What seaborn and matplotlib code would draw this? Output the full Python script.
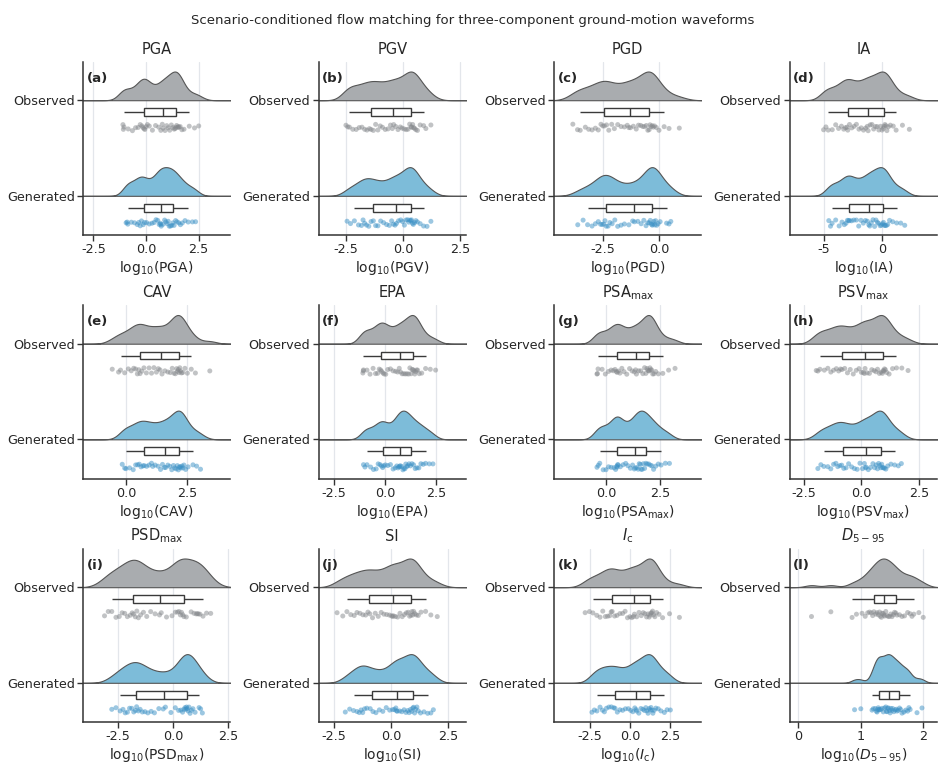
import numpy as np
import pandas as pd
import matplotlib
matplotlib.use("Agg")
import matplotlib.pyplot as plt
from matplotlib.ticker import MaxNLocator
import seaborn as sns

# log10 samples per intensity measure (observed vs generated)
pga_obs = [-1.1, -1.08, -1.05, -0.85, -0.65, -0.5, -0.38, -0.28, -0.2, -0.15,
           -0.1, -0.06, 0.0, 0.06, 0.15, 0.3, 0.45, 0.6, 0.7, 0.77,
           0.81, 0.9, 0.98, 1.05, 1.12, 1.2, 1.27, 1.33, 1.38, 1.41,
           1.45, 1.5, 1.53, 1.57, 1.62, 1.7, 1.8, 2.05, 2.3, 2.5]
pga_gen = [-0.95, -0.9, -0.87, -0.7, -0.55, -0.42, -0.35, -0.28, -0.22, -0.14,
           -0.08, 0.02, 0.15, 0.28, 0.38, 0.47, 0.55, 0.62, 0.67, 0.7,
           0.72, 0.8, 0.88, 0.94, 1.0, 1.05, 1.1, 1.16, 1.22, 1.27,
           1.33, 1.4, 1.47, 1.55, 1.63, 1.72, 1.85, 2.0, 2.2, 2.35]
pgv_obs = [-2.5, -2.42, -2.35, -2.2, -2.05, -1.92, -1.8, -1.68, -1.58, -1.47,
           -1.4, -1.3, -1.2, -1.1, -1.0, -0.9, -0.78, -0.66, -0.55, -0.47,
           -0.41, -0.32, -0.22, -0.12, -0.04, 0.05, 0.14, 0.22, 0.29, 0.35,
           0.38, 0.42, 0.46, 0.5, 0.56, 0.63, 0.75, 0.9, 1.0, 1.22]
pgv_gen = [-2.45, -2.3, -2.13, -1.95, -1.82, -1.75, -1.68, -1.6, -1.5, -1.4,
           -1.3, -1.2, -1.1, -0.98, -0.85, -0.72, -0.6, -0.5, -0.42, -0.35,
           -0.29, -0.2, -0.1, -0.02, 0.06, 0.13, 0.2, 0.25, 0.3, 0.34,
           0.37, 0.41, 0.45, 0.5, 0.56, 0.63, 0.75, 0.9, 1.05, 1.22]
pgd_obs = [-3.86, -3.65, -3.53, -3.3, -3.15, -3.0, -2.85, -2.72, -2.6, -2.52,
           -2.45, -2.35, -2.25, -2.12, -2.0, -1.85, -1.7, -1.55, -1.42, -1.35,
           -1.28, -1.15, -1.02, -0.92, -0.82, -0.73, -0.65, -0.57, -0.5, -0.44,
           -0.4, -0.35, -0.3, -0.26, -0.2, -0.12, 0.0, 0.23, 0.45, 0.91]
pgd_gen = [-3.64, -3.4, -3.2, -3.0, -2.85, -2.72, -2.62, -2.55, -2.48, -2.42,
           -2.36, -2.28, -2.2, -2.1, -1.98, -1.85, -1.7, -1.55, -1.35, -1.18,
           -1.1, -0.95, -0.8, -0.68, -0.58, -0.5, -0.44, -0.39, -0.34, -0.3,
           -0.27, -0.23, -0.19, -0.15, -0.1, -0.04, 0.05, 0.34, 0.45, 0.53]
ia_obs = [-5.05, -4.85, -4.65, -4.3, -4.0, -3.75, -3.5, -3.3, -3.15, -3.02,
          -2.95, -2.8, -2.6, -2.4, -2.2, -1.98, -1.78, -1.58, -1.4, -1.25,
          -1.18, -1.0, -0.85, -0.7, -0.55, -0.4, -0.25, -0.1, 0.03, 0.14,
          0.2, 0.28, 0.36, 0.45, 0.58, 0.75, 1.0, 1.25, 1.8, 2.4]
ia_gen = [-4.6, -4.45, -4.31, -4.0, -3.7, -3.45, -3.25, -3.1, -2.98, -2.87,
          -2.8, -2.62, -2.42, -2.2, -2.0, -1.8, -1.6, -1.42, -1.25, -1.12,
          -1.04, -0.9, -0.76, -0.62, -0.5, -0.38, -0.26, -0.14, -0.03, 0.08,
          0.15, 0.22, 0.3, 0.4, 0.52, 0.68, 0.95, 1.3, 1.65, 2.0]
cav_obs = [-0.56, -0.3, -0.22, -0.05, 0.1, 0.22, 0.32, 0.4, 0.47, 0.53,
           0.58, 0.65, 0.74, 0.84, 0.95, 1.05, 1.15, 1.25, 1.33, 1.4,
           1.48, 1.6, 1.72, 1.82, 1.9, 1.97, 2.03, 2.08, 2.12, 2.15,
           2.18, 2.21, 2.24, 2.28, 2.33, 2.42, 2.52, 2.68, 2.85, 3.44]
cav_gen = [-0.15, -0.05, 0.0, 0.15, 0.3, 0.4, 0.48, 0.55, 0.62, 0.7,
           0.75, 0.85, 0.95, 1.05, 1.1, 1.2, 1.32, 1.42, 1.5, 1.58,
           1.63, 1.72, 1.8, 1.88, 1.95, 2.0, 2.06, 2.11, 2.15, 2.19,
           2.22, 2.26, 2.3, 2.34, 2.38, 2.45, 2.55, 2.75, 2.9, 3.06]
epa_obs = [-1.1, -1.08, -1.07, -0.9, -0.75, -0.6, -0.48, -0.38, -0.3, -0.23,
           -0.18, -0.12, -0.06, 0.02, 0.12, 0.25, 0.38, 0.5, 0.6, 0.68,
           0.74, 0.82, 0.9, 0.98, 1.06, 1.14, 1.2, 1.26, 1.31, 1.36,
           1.4, 1.44, 1.48, 1.53, 1.58, 1.66, 1.78, 1.97, 2.2, 2.46]
epa_gen = [-1.07, -1.0, -0.9, -0.72, -0.58, -0.45, -0.35, -0.26, -0.19, -0.13,
           -0.08, 0.0, 0.12, 0.25, 0.38, 0.48, 0.56, 0.62, 0.67, 0.7,
           0.73, 0.8, 0.86, 0.91, 0.96, 1.0, 1.05, 1.1, 1.16, 1.23,
           1.3, 1.38, 1.46, 1.55, 1.64, 1.74, 1.85, 1.97, 2.15, 2.33]
psa_obs = [-0.44, -0.42, -0.39, -0.2, -0.05, 0.1, 0.22, 0.32, 0.4, 0.46,
           0.5, 0.56, 0.63, 0.72, 0.82, 0.95, 1.08, 1.2, 1.3, 1.36,
           1.4, 1.5, 1.6, 1.7, 1.78, 1.84, 1.89, 1.93, 1.97, 2.0,
           2.03, 2.07, 2.11, 2.16, 2.22, 2.3, 2.42, 2.63, 2.9, 3.2]
psa_gen = [-0.44, -0.38, -0.31, -0.15, -0.02, 0.1, 0.22, 0.35, 0.43, 0.48,
           0.5, 0.52, 0.55, 0.65, 0.78, 0.9, 1.0, 1.12, 1.22, 1.3,
           1.35, 1.42, 1.48, 1.53, 1.58, 1.62, 1.67, 1.72, 1.78, 1.84,
           1.9, 1.97, 2.05, 2.12, 2.2, 2.3, 2.42, 2.55, 2.75, 2.94]
psv_obs = [-1.95, -1.88, -1.79, -1.6, -1.45, -1.32, -1.2, -1.08, -0.98, -0.9,
           -0.84, -0.72, -0.6, -0.48, -0.35, -0.22, -0.1, 0.0, 0.08, 0.13,
           0.16, 0.25, 0.35, 0.45, 0.55, 0.63, 0.7, 0.78, 0.85, 0.91,
           0.94, 0.97, 1.0, 1.04, 1.1, 1.2, 1.35, 1.52, 1.75, 2.02]
psv_gen = [-1.88, -1.75, -1.62, -1.45, -1.32, -1.2, -1.1, -1.02, -0.93, -0.85,
           -0.76, -0.66, -0.55, -0.42, -0.3, -0.18, -0.06, 0.05, 0.13, 0.18,
           0.21, 0.3, 0.4, 0.5, 0.58, 0.64, 0.7, 0.75, 0.8, 0.84,
           0.88, 0.92, 0.96, 1.0, 1.06, 1.14, 1.28, 1.44, 1.6, 1.73]
psd_obs = [-3.12, -2.95, -2.79, -2.6, -2.45, -2.32, -2.2, -2.08, -1.95, -1.86,
           -1.8, -1.72, -1.65, -1.58, -1.48, -1.35, -1.2, -1.02, -0.82, -0.62,
           -0.54, -0.3, -0.05, 0.1, 0.2, 0.27, 0.33, 0.38, 0.44, 0.49,
           0.6, 0.82, 0.95, 1.05, 1.1, 1.15, 1.22, 1.36, 1.52, 1.71]
psd_gen = [-2.79, -2.6, -2.41, -2.28, -2.18, -2.08, -1.98, -1.88, -1.79, -1.71,
           -1.66, -1.58, -1.5, -1.4, -1.28, -1.15, -1.0, -0.85, -0.65, -0.45,
           -0.35, -0.1, 0.1, 0.25, 0.35, 0.43, 0.49, 0.54, 0.58, 0.61,
           0.64, 0.68, 0.72, 0.77, 0.83, 0.9, 1.0, 1.18, 1.25, 1.33]
si_obs = [-2.35, -2.1, -1.92, -1.75, -1.6, -1.48, -1.35, -1.22, -1.1, -1.0,
          -0.92, -0.8, -0.68, -0.55, -0.42, -0.3, -0.18, -0.06, 0.03, 0.08,
          0.11, 0.2, 0.3, 0.4, 0.5, 0.6, 0.68, 0.76, 0.82, 0.88,
          0.92, 0.96, 1.0, 1.05, 1.12, 1.2, 1.32, 1.52, 1.75, 2.03]
si_gen = [-1.99, -1.8, -1.63, -1.48, -1.38, -1.3, -1.23, -1.15, -1.05, -0.9,
          -0.78, -0.65, -0.5, -0.35, -0.2, -0.05, 0.08, 0.16, 0.22, 0.25,
          0.28, 0.38, 0.48, 0.58, 0.66, 0.74, 0.8, 0.86, 0.91, 0.96,
          1.0, 1.04, 1.08, 1.14, 1.2, 1.3, 1.45, 1.61, 1.75, 1.86]
ic_obs = [-2.77, -2.5, -2.29, -2.05, -1.85, -1.68, -1.52, -1.38, -1.25, -1.16,
          -1.1, -0.95, -0.8, -0.62, -0.45, -0.3, -0.15, 0.0, 0.12, 0.22,
          0.28, 0.42, 0.56, 0.7, 0.82, 0.93, 1.03, 1.12, 1.19, 1.25,
          1.3, 1.35, 1.4, 1.46, 1.54, 1.65, 1.8, 2.02, 2.45, 3.06]
ic_gen = [-2.35, -2.2, -2.04, -1.85, -1.7, -1.58, -1.45, -1.3, -1.15, -1.0,
          -0.92, -0.78, -0.62, -0.45, -0.28, -0.1, 0.05, 0.18, 0.3, 0.38,
          0.42, 0.55, 0.68, 0.8, 0.9, 0.98, 1.05, 1.12, 1.19, 1.25,
          1.3, 1.36, 1.42, 1.5, 1.6, 1.75, 1.92, 2.13, 2.3, 2.5]
d595_obs = [0.21, 0.52, 0.86, 0.93, 1.02, 1.07, 1.11, 1.14, 1.17, 1.19,
            1.21, 1.24, 1.26, 1.28, 1.3, 1.31, 1.33, 1.34, 1.36, 1.37,
            1.38, 1.4, 1.42, 1.44, 1.46, 1.48, 1.5, 1.52, 1.54, 1.56,
            1.58, 1.62, 1.66, 1.7, 1.75, 1.79, 1.82, 1.85, 1.93, 2.0]
d595_gen = [0.9, 1.0, 1.18, 1.2, 1.23, 1.25, 1.26, 1.27, 1.28, 1.29,
            1.3, 1.32, 1.34, 1.36, 1.38, 1.4, 1.41, 1.42, 1.43, 1.44,
            1.46, 1.47, 1.48, 1.5, 1.51, 1.53, 1.55, 1.57, 1.58, 1.6,
            1.62, 1.64, 1.66, 1.69, 1.72, 1.75, 1.77, 1.79, 1.9, 1.98]

groups = ["Observed", "Generated"]
names = ["PGA", "PGV", "PGD", "IA", "CAV", "EPA",
         r"PSA$_{\mathrm{max}}$", r"PSV$_{\mathrm{max}}$", r"PSD$_{\mathrm{max}}$",
         "SI", r"$I_{\mathrm{c}}$", r"$D_{5-95}$"]
xlabels = [r"log$_{10}$(PGA)", r"log$_{10}$(PGV)", r"log$_{10}$(PGD)", r"log$_{10}$(IA)",
           r"log$_{10}$(CAV)", r"log$_{10}$(EPA)", r"log$_{10}$(PSA$_{\mathrm{max}}$)",
           r"log$_{10}$(PSV$_{\mathrm{max}}$)", r"log$_{10}$(PSD$_{\mathrm{max}}$)",
           r"log$_{10}$(SI)", r"log$_{10}$($I_{\mathrm{c}}$)", r"log$_{10}$($D_{5-95}$)"]
observed = [pga_obs, pgv_obs, pgd_obs, ia_obs, cav_obs, epa_obs,
            psa_obs, psv_obs, psd_obs, si_obs, ic_obs, d595_obs]
generated = [pga_gen, pgv_gen, pgd_gen, ia_gen, cav_gen, epa_gen,
             psa_gen, psv_gen, psd_gen, si_gen, ic_gen, d595_gen]
xlims = [(-3.0, 4.0), (-3.7, 2.75), (-4.7, 1.9), (-8.0, 4.8),
         (-1.76, 4.28), (-3.27, 3.94), (-2.44, 4.43), (-3.1, 3.27),
         (-4.1, 2.6), (-3.16, 3.28), (-4.69, 4.42), (-0.14, 2.22)]

obs_fill, gen_fill = "#a9acaf", "#7dbcd9"
obs_pt, gen_pt = "#85888c", "#3a90c5"
edge = "#3a3a3a"
cloud_h = 0.3

sns.set_theme(style="ticks")
plt.rcParams["axes.unicode_minus"] = False
plt.rcParams["font.family"] = ["DejaVu Sans"]

np.random.seed(7)
fig, axes = plt.subplots(3, 4, figsize=(9.45, 7.65), dpi=100)
fig.subplots_adjust(left=0.0878, right=0.9915, bottom=0.0562, top=0.919,
                    wspace=0.599, hspace=0.407)

for i, ax in enumerate(axes.flat):
    obs, gen = observed[i], generated[i]
    # half violins (clouds); split violin without hue sits half a width off its position
    for k, (vals, col) in enumerate(zip([obs, gen], [obs_fill, gen_fill])):
        sns.violinplot(x=vals, y=np.full(len(vals), k - cloud_h / 2), orient="y",
                       native_scale=True, split=True, inner=None,
                       density_norm="width", width=cloud_h, cut=30, gridsize=900,
                       bw_adjust=0.6, color=col, saturation=1,
                       linecolor="#555555", linewidth=0.8, ax=ax)
    vals = obs + gen
    grp = [groups[0]] * len(obs) + [groups[1]] * len(gen)
    sns.boxplot(x=vals, y=[0.125] * len(obs) + [1.125] * len(gen), orient="y",
                native_scale=True, width=0.08, whis=(5, 95), showfliers=False,
                showcaps=False, color="white", linecolor=edge, linewidth=1.0,
                saturation=1, ax=ax)
    sns.stripplot(x=vals, y=[0.285] * len(obs) + [1.285] * len(gen), hue=grp,
                  palette={groups[0]: obs_pt, groups[1]: gen_pt}, orient="y",
                  native_scale=True, jitter=0.035, size=3.6, alpha=0.5,
                  linewidth=0, legend=False, ax=ax)

    ax.set_xlim(*xlims[i])
    ax.set_ylim(1.41, -0.4)
    ax.set_yticks([0, 1])
    ax.set_yticklabels(groups)
    ax.xaxis.set_major_locator(MaxNLocator(nbins=4, steps=[1, 2.5, 5, 10]))
    ax.grid(axis="x", color="#e3e6eb", linewidth=0.9)
    ax.set_axisbelow(True)
    ax.set_xlabel(xlabels[i], fontsize=10, labelpad=2)
    ax.set_ylabel("")
    ax.set_title(names[i], fontsize=10.5, pad=6)
    ax.tick_params(axis="both", labelsize=9.2, length=4, width=1, color="#333333", pad=2)
    for s in ["left", "bottom"]:
        ax.spines[s].set_color("#333333")
        ax.spines[s].set_linewidth(1.1)
    sns.despine(ax=ax)
    ax.text(0.025, 0.905, "(" + "abcdefghijkl"[i] + ")", transform=ax.transAxes,
            fontsize=9.5, fontweight="bold", va="center", ha="left")

fig.suptitle("Scenario-conditioned flow matching for three-component ground-motion waveforms",
             fontsize=9.5, y=0.982)
fig.savefig("out.png", dpi=100)
